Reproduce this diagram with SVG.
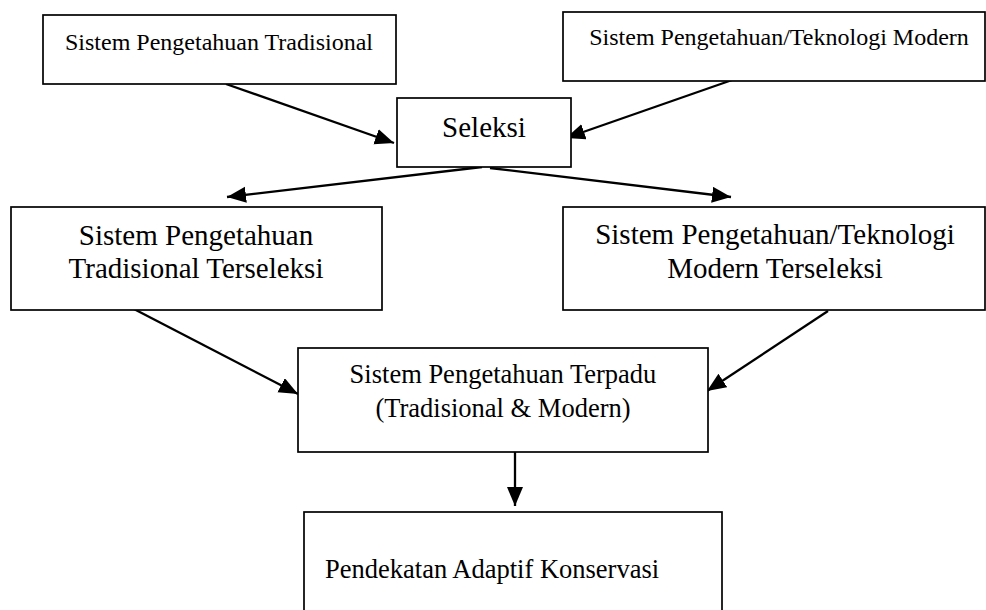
<svg xmlns="http://www.w3.org/2000/svg" width="986" height="610" viewBox="0 0 986 610">
<style>
  rect.box { fill: #ffffff; stroke: #000000; stroke-width: 1.7; }
  text { font-family: "Liberation Serif", "Times New Roman", serif; fill: #000000; }
  .s { font-size: 24px; }
  .l { font-size: 29px; }
  .m { font-size: 26.5px; }
  line.c { stroke: #000000; stroke-width: 2.3; marker-end: url(#ah); }
</style>
<defs>
  <marker id="ah" markerUnits="userSpaceOnUse" markerWidth="20" markerHeight="17" refX="19" refY="8" orient="auto">
    <path d="M0,0 L19,8 L0,16 Z" fill="#000000"/>
  </marker>
</defs>
<rect x="0" y="0" width="986" height="610" fill="#ffffff"/>
<g id="connectors">
  <line class="c" x1="226" y1="84" x2="394" y2="143"/>
  <line class="c" x1="735" y1="79" x2="566" y2="138"/>
  <line class="c" x1="482" y1="167" x2="227" y2="197"/>
  <line class="c" x1="490" y1="168" x2="731" y2="197"/>
  <line class="c" x1="132" y1="308" x2="298" y2="394"/>
  <line class="c" x1="828" y1="311" x2="707" y2="391"/>
  <line class="c" x1="515" y1="448" x2="515" y2="506"/>
</g>
<g id="n1">
  <rect class="box" x="43" y="15" width="353" height="69"/>
  <text class="s" x="219" y="50" text-anchor="middle">Sistem Pengetahuan Tradisional</text>
</g>
<g id="n2">
  <rect class="box" x="563" y="12" width="422" height="69"/>
  <text class="s" x="779" y="45" text-anchor="middle">Sistem Pengetahuan/Teknologi Modern</text>
</g>
<g id="n3">
  <rect class="box" x="397" y="98" width="174" height="69"/>
  <text class="l" x="484" y="137" text-anchor="middle">Seleksi</text>
</g>
<g id="n4">
  <rect class="box" x="11" y="207" width="371" height="103"/>
  <text class="l" x="196" y="245" text-anchor="middle">Sistem Pengetahuan</text>
  <text class="l" x="196" y="278" text-anchor="middle">Tradisional Terseleksi</text>
</g>
<g id="n5">
  <rect class="box" x="563" y="207" width="422" height="103"/>
  <text class="l" x="775" y="244" text-anchor="middle">Sistem Pengetahuan/Teknologi</text>
  <text class="l" x="775" y="278" text-anchor="middle">Modern Terseleksi</text>
</g>
<g id="n6">
  <rect class="box" x="298" y="348" width="410" height="104"/>
  <text class="m" x="503" y="383" text-anchor="middle">Sistem Pengetahuan Terpadu</text>
  <text class="m" x="503" y="417" text-anchor="middle">(Tradisional &amp; Modern)</text>
</g>
<g id="n7">
  <rect class="box" x="304" y="512" width="418" height="120"/>
  <text class="m" x="325" y="578">Pendekatan Adaptif Konservasi</text>
</g>
</svg>
